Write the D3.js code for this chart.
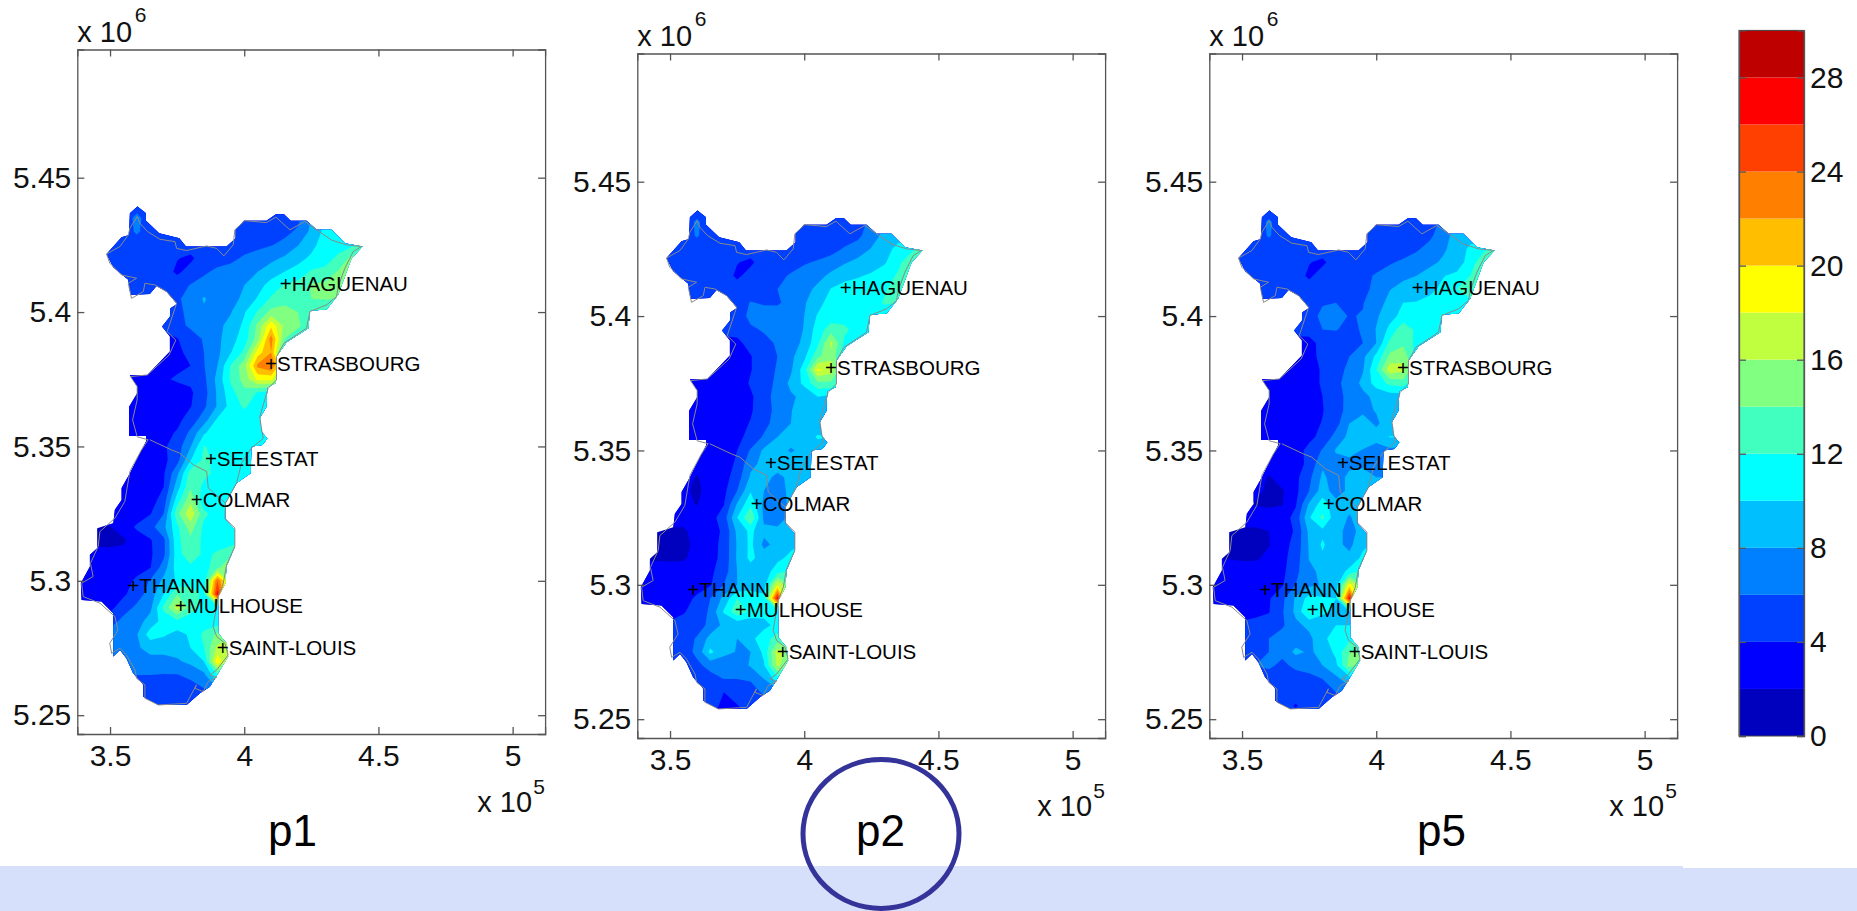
<!DOCTYPE html>
<html>
<head>
<meta charset="utf-8">
<title>p1 p2 p5</title>
<script src="https://d3js.org/d3.v7.min.js"></script>
<style>
body { margin: 0; background: #fff; }
svg { display: block; font-family: "Liberation Sans", Arial, sans-serif; }
.domain, .tick line { stroke: #555; stroke-width: 1.3px; }
.tick text { fill: #111; font-size: 30px; font-family: "Liberation Sans", Arial, sans-serif; }
</style>
</head>
<body>
<svg width="1857" height="911"></svg>
<script>
'use strict';

// colour bands, lowest first, two units wide each
var bandStep = 2;
var bandColors = ['#0000bf', '#0000ff', '#0040ff', '#0080ff', '#00bfff', '#00ffff', '#40ffbf', '#80ff80',
	'#bfff40', '#ffff00', '#ffbf00', '#ff8000', '#ff4000', '#ff0000', '#bf0000'];
var colorbarTicks = [0, 4, 8, 12, 16, 20, 24, 28];

// axes run in km, the labels show them as x 10^5 and x 10^6 metres
var xTicks = [350, 400, 450, 500];
var yTicks = [5250, 5300, 5350, 5400, 5450];
var panelNames = ['p1', 'p2', 'p5'];

var cityNames = ['HAGUENAU', 'STRASBOURG', 'SELESTAT', 'COLMAR', 'THANN', 'MULHOUSE', 'SAINT-LOUIS'];
var cityX = [415.4, 409.9, 387.5, 382.2, 358.6, 376.3, 391.9];
var cityY = [5410.5, 5380.7, 5345.4, 5330.1, 5298.2, 5290.7, 5274.9];

// grid of the fields: 5 km cells, west to east from gridX0, north to south from gridY0
var gridX0 = 340, gridY0 = 5440, gridStep = 5, gridCols = 22;

// blocky edge of the interpolated field
var maskKm = [[360.2,5439.3],[363.4,5436.8],[363.4,5434],[368.3,5429.3],[375.8,5427.5],[378.3,5424.4],[393.4,5424.4],
	[396.8,5427.5],[396.8,5430.8],[399.9,5434],[408.3,5434],[411.8,5436.4],[414.8,5436.4],[417.3,5434],[423.2,5434],
	[427,5430.6],[432.5,5430.6],[437.5,5425.6],[444.1,5424.4],[440,5420],[435,5406.4],[430.7,5401],[424.5,5400.5],
	[423.9,5394],[415.8,5388.8],[412,5383.4],[411.8,5373.5],[408.6,5372],[408.3,5364.8],[405.8,5360.5],[406.5,5355.5],
	[408.6,5353],[406.8,5350.5],[402.7,5350],[402.4,5340],[397.1,5336.3],[393,5328.9],[393,5322.7],[396.5,5319],
	[396.5,5312.8],[393.4,5305.3],[393,5299.1],[390.3,5294.1],[390.3,5280.5],[393.4,5276.8],[394,5271.8],[390.3,5265.6],
	[387.2,5260.6],[383.5,5258.2],[378.5,5253.8],[368,5253.8],[362.4,5256.9],[362.4,5261.3],[358.6,5265.6],[356.1,5271.2],
	[353.7,5274.3],[351.2,5271.8],[351.2,5287.9],[346.8,5292.3],[339.4,5292.9],[339.1,5299.1],[342.5,5305.3],[342.5,5309.7],
	[345.2,5312.1],[345.2,5319.6],[351.2,5321.4],[351.8,5326.4],[354.3,5330.1],[354.3,5334.5],[357.4,5340],[360.5,5346.3],
	[363.4,5351.8],[363.4,5353.9],[357.1,5353.9],[357.1,5364.8],[360.1,5369.8],[360.1,5372.3],[357.4,5376.6],[363.9,5376.6],
	[372.3,5385.3],[372.3,5390.9],[369.4,5394.6],[372.3,5398.3],[372.5,5401.4],[375,5403],[371.1,5407.6],[367.3,5409.7],
	[364.8,5406.7],[357.6,5406.4],[356.8,5412],[351.2,5416.7],[348.7,5421.6],[354.3,5427.8],[357.1,5428.7],[357.4,5436.8]];

// region border and the line between the two departments
var borderKm = [[356.8,5428.7],[357.4,5431.2],[360.1,5435.5],[361.1,5433.1],[363.9,5430],[368.6,5427.1],[374.2,5426.2],
	[374.8,5423.7],[378.5,5422.9],[386,5424.6],[389.7,5423.7],[392.4,5420.9],[395.9,5425],[396.5,5430.6],[400.2,5434],
	[408.3,5433.3],[411.8,5435.3],[417,5430.6],[422.6,5433.7],[427,5430.6],[432.5,5426.8],[438.1,5425],[443.7,5424.4],
	[440.6,5422.5],[437.5,5416.3],[435,5409.5],[434.4,5405.8],[430.7,5402.7],[424.5,5400.2],[423.2,5394],[414.8,5388.4],
	[412,5383.4],[412,5374.7],[408.9,5371.6],[405.8,5361.1],[406.5,5356.1],[407.1,5353],[402.7,5349.4],[399,5343.8],
	[397.1,5336.3],[393,5328.9],[392.8,5323.3],[396.5,5319.6],[396.5,5312.8],[393.4,5305.9],[392.2,5299.1],[390.3,5294.1],
	[388.4,5283],[389.7,5279.3],[392.8,5276.8],[394,5272.4],[389.7,5266.8],[387.2,5265],[389.7,5264.1],[386.6,5262.5],
	[384.7,5258.8],[381.6,5260],[382.2,5261.3],[378.5,5254.4],[368,5253.8],[363,5256.3],[363,5261.3],[359.9,5263.7],
	[359.3,5266.8],[356.1,5272.4],[353.7,5274.9],[350.6,5273],[349.9,5276.8],[353,5281.7],[351.8,5286.7],[346.2,5291.7],
	[340,5294.1],[339.4,5299.1],[343.7,5301.6],[342.7,5306.5],[345.6,5312.8],[346.2,5318.3],[351.8,5323.3],[355.5,5329.5],
	[357.4,5340.7],[361.7,5348.7],[364.2,5352.5],[360.1,5353.6],[358.4,5359.9],[360.1,5367.3],[360.1,5372.3],[357.6,5376],
	[363.9,5376.6],[372,5384],[374.5,5389.6],[371.3,5392.7],[374.2,5401.4],[374.8,5403.3],[371.1,5407.6],[366.7,5410.1],
	[363,5410.7],[362.4,5407.6],[358,5405.1],[356.8,5410.7],[359.9,5412.6],[354.3,5413.8],[349.9,5418.2],[348.7,5421.6],
	[353.7,5424.4],[356.8,5428.7]];
var deptLineKm = [[364.8,5352.5],[372.9,5348.7],[376,5347.5],[381,5343.2],[386,5340.7],[386.6,5334.5],[393,5328.9]];

// values, short rows carry their last value on to the east
var gridP1 = [
	[5,5,5,5,5,5,5,5,5,5,5,5,5,5,5,5,5,6,9,10],
	[5,5,5,5,6.5,5,5,5,5,5,5,5,5,5,5,5,5.5,8,10,11],
	[5,5,5,5,6.3,5,5,5,5,5,5,5,5,5,5,5.5,6.3,8.5,10.5,11],
	[5,5,5,5,5,5,5,5,5,5,5,5,5.2,5.5,5.9,6.5,7.9,9.5,10.8,11,11.5,13],
	[5,5,5,5,5,5,5,4.1,3.6,5,5.2,5.5,6.3,6.8,7.5,8.3,9.5,10.3,11,12.5,14.5,15],
	[5,5,5,5,5,5,5,3.6,4.8,5.7,6.4,6.8,7.2,8,9,10,10.6,12.3,12.6,14.2,15],
	[5,5,5,5,5,5,4.8,5.2,6.1,6.7,7,7.3,8,9.2,10.8,12.2,12.8,14.2,14.5,15],
	[5,5,5,5,5,5,5,5.8,6.5,8.2,7,7.2,8.5,10.2,12.3,13,13.5,14,14.2,14],
	[5,5,5,5,5,5,5,5.3,6.8,7.7,7.8,7.9,9.8,12.2,14.6,15,14,12.8,12],
	[5,5,5,5,5,5,4.5,5.3,6.4,7.2,7.6,8.5,10.5,14.5,19.5,15.5,14.5,12,11],
	[4,4,4,4,4,4,3.5,3.9,5,6.2,7.5,9.2,11,15,23,14,12,10.5,10],
	[3.5,3.5,3.5,3.5,3.5,3.5,3.5,3.6,4.5,6,7.5,9.9,12.5,19,22,11,10],
	[3,3,3,3,3,3,3.3,3.5,4,5.9,8,12.2,15.2,22.5,24,17,12,11],
	[3,3,3,3,3.3,3.5,3.7,4.3,4.4,5.5,8.6,12.4,14.8,18.5,18.5,13,11],
	[2.5,2.5,2.5,2.5,2.5,2.6,2.8,3,3.7,5.2,8.3,11.3,13.5,11.8,11,10],
	[2.6,2.6,2.6,2.6,2.6,2.7,2.8,3,3.9,5.6,8.2,10.8,12.3,11,10.8],
	[3,3,3,3,3,3,3.1,3.5,4.8,7,10.3,11,11,11],
	[3.3,3.3,3.3,3.3,3.3,3.3,3.4,4.2,6.5,9.8,11,11,10.5,10.9,11],
	[3,3,3,3,3,3.3,3.7,5,7.9,12.1,11.5,11,10.5,10],
	[3,3,3,3,3,3,3.5,5.2,9.9,12.5,11.5,11,10.4,9.5],
	[3,3,3,3,3,3,3.8,7.5,13,12.5,11.5,11,10.8,10],
	[3,3,3,3,3,3,4,9,13.7,11.5,11],
	[3,3,3,3,3,3,5,11,15.5,10.5,10.7,11],
	[3,3,3,3,3,3.9,6,13.5,17.5,12.5,11],
	[2,2,1.9,3,4.3,5.3,7.5,11.5,15,11.5,11],
	[1.5,1.5,1.5,1.7,3,3.8,5.5,11.5,13.5,11.5,11,11,12],
	[2.6,2.6,2.5,2.6,3.2,3.7,5.5,11.2,13.5,11.5,12.3,13.5,13],
	[3,3,3,3,3,3.9,7,11,11.5,11,13.5,16,12],
	[3,3,3,3,4.5,6.2,8.5,10.3,11.2,11,24,15,12],
	[3,3,3,3.7,5,7,10,14,13,11.5,27,14,12],
	[3,3,3.5,5,6.5,7.5,12.5,17,13,11,11],
	[5,5,5,6.7,7.2,8.8,10.8,11.5,10.8,10.8,10.7,11],
	[7,7,7,7,7.9,11,10.3,9.3,10.3,12.5,14.5,15],
	[7,7,7,7,7.8,8.5,8.5,8.9,10,12,16.5,18,15],
	[7,7,7,7,7,7.5,7.5,7.7,8.5,10,19.5,15,12],
	[6,6,6,6,6,6,5.9,5.9,6.5,7.5,12,10],
	[5,5,5,5,5,5,5,5,5.2,6,8],
	[5,5,5,5,5,5,5,5,5,5,5],
	[5,5,5,5,5,5,5,5,5,5,5]
];
var gridP2 = [
	[5,5,5,5,5,5,5,5,5,5,5,5,5,5,5,5,5,6,8,9],
	[5,5,5,5,6.3,5,5,5,5,5,5,5,5,5,5,5,5.2,6.5,8,9],
	[5,5,5,5,6.2,5,5,5,5,5,5,5,5,5,5,5,5.5,7.2,8.5,9],
	[5,5,5,5,5,5,5,5,5,5,5,5,5,5,5.3,6.2,7,8.1,9,10.8,11.5,13],
	[5,5,5,5,5,5,5,4.1,3.6,5,5,5.2,5.8,6.2,6.8,7.8,8.5,9,9.8,11.5,13.5],
	[5,5,5,5,5,5,5,3.6,4.8,5,5.5,6.2,6.8,7.3,8.5,9.5,9.8,10.3,11,12.3,13],
	[5,5,5,5,5,5,5,5,5,5.3,6,6.7,7.3,8.5,10.1,10.6,11,11,11.8,13],
	[5,5,5,5,5,5,5,5,6.1,5.8,5.8,6.5,7.8,9.2,11,11.2,11.3,11.3,12.2,12],
	[5,5,5,5,5,5,5,5,6.5,6.8,6.7,7,8,10.2,11,11,11,11],
	[5,5,5,5,5,5,4.5,4.6,5.7,6.2,6.3,7,8.1,11,13,12.5,11,10.5],
	[4,4,4,4,4,4,3.5,3.6,4.6,5.5,6.2,7,8.5,11.5,16.5,11.5,10.5],
	[3.3,3.3,3.3,3.3,3.3,3.3,3.3,3.4,3.9,5,6,7.5,9.5,13.5,15.5,11],
	[3.3,3.3,3.3,3.3,3.3,3.3,3.3,3.3,3.9,5,6.2,7.7,11,18.5,17,12],
	[3,3,3,3,3,3,3,3,4.2,5.2,6.4,8.5,10.5,13.5,13.5,11],
	[3,3,3,3,3,3,3,3,3.7,5.1,6.9,7.7,8.5,10,9.5,9],
	[3,3,3,3,3,3,3,3,3.8,5,6.7,7.9,9,9.2,9],
	[3,3,3,3,3,3,3,3.4,4.1,5.3,7,8,9,9],
	[3,3,3,3,3,3,3,3.6,4.5,6.3,8,8.7,9,10.2,10],
	[3,3,3,3,3,3,3.4,4,6.2,8.4,8.8,7.8,8.5,9],
	[3,3,3,3,3,3,3.2,4.3,7.5,8.5,9,9,9.2],
	[3,3,3,3,1.8,3,3.2,5,8.3,8.7,7.5,8.5,9],
	[2.5,2.5,2.5,2.5,1.5,3,3.5,6,9.8,8,6.8,8.7,9],
	[2.5,2.5,2.5,2.5,1.9,3,3.9,8.2,11.5,7.5,6.8,8.5,9],
	[3,3,3,3,3,3.2,5,10,14,7.5,7,8.5,9],
	[2,1.9,1.6,1.6,3,3.5,4.2,8.5,10.5,8.5,8.5,8.8,9],
	[1.5,1.5,1.5,1.5,2.5,3.3,4.5,8.2,10.5,7.5,8.6,9.5,10.2],
	[1.7,1.7,1.6,1.7,2.8,3.4,4.5,8.3,10.5,9,9.5,10.5,10],
	[3,3,3,3,3,3.6,5,8,9,9,11,12.5,11],
	[3,3,3,3,3.2,3.8,6,8,8.8,9,18,14,11],
	[3,3,3,3.3,4.3,6,8.5,12,11.5,10.5,27,13,11],
	[3,3,3,3.9,4.5,6.4,10.2,13.5,11.5,10.5,10.3,10],
	[4.5,4.5,4.5,4.5,5,6.6,8.5,8.5,8.3,9.5,10.5,10],
	[5,5,5,5,6.2,8.7,8.7,8,9.5,11,13,12],
	[5,5,5,5,6.5,10.5,8.5,7.9,8,10.5,17,15],
	[5.5,5.5,5.5,5.5,5.5,6.7,6.9,7,8.2,9.8,16.5,14],
	[5,5,5,5,5,5.2,6,6,6.2,8,11,10],
	[5,5,5,5,5,5,4,4.8,5.2,6.3,7],
	[5,5,5,5,5,4.5,3.7,3.9,5,5,5],
	[5,5,5,5,5,4,3.8,3.9,4,4,4]
];
var gridP5 = [
	[5,5,5,5,5,5,5,5,5,5,5,5,5,5,5,5,5,6,8,9],
	[5,5,5,5,6.3,5,5,5,5,5,5,5,5,5,5,5,5.2,6.5,8,9],
	[5,5,5,5,6.2,5,5,5,5,5,5,5,5,5,5,5,5.5,7.5,8.5,9],
	[5,5,5,5,5,5,5,5,5,5,5,5,5,5,5.2,5.7,6.8,7.8,8.6,10.5,11.5,13],
	[5,5,5,5,5,5,5,4.1,3.6,5,5,5,5.2,5.8,6.3,7,7.7,8.2,8.8,11,13.5],
	[5,5,5,5,5,5,5,3.6,5,5,5,5.5,6.2,6.8,7.5,8,8.5,9.9,10.5,12,13],
	[5,5,5,5,5,5,5,5,5,5,5,5.6,6.4,7.9,8.8,8.8,9.5,10.5,12,13],
	[5,5,5,5,5,5,5,5,5.8,6,5.5,5.9,7.1,8.6,10,10.1,10.6,11,11.5],
	[5,5,5,5,5,5,5,5,6.6,6.6,5.9,6.1,7.7,9.3,10.6,10.8,11,10.8],
	[5,5,5,5,5,5,4.5,4.6,6,6.1,5.5,6.2,8.1,10.5,13.5,11.5,10.8],
	[4,4,4,4,4,4,3.5,3.5,4.5,5,5.1,6,8,12.5,13.5,11.5],
	[3.3,3.3,3.3,3.3,3.3,3.3,3.3,3.4,4.5,5,6,7.5,10.5,14.5,15.5,11],
	[3.3,3.3,3.3,3.3,3.3,3.3,3.3,3.3,4.2,5.5,6.3,7.8,11.9,17.3,16.5,12],
	[3,3,3,3,3,3,3,3,4.3,5.7,6.5,8.6,10.8,12.5,13,10],
	[3,3,3,3,3,3,3,3,4,5.5,6.4,7.4,8.6,9,9],
	[3,3,3,3,3,3,3,3,3.9,5.2,6.7,7.6,8.1,9,9],
	[3,3,3,3,3,3,3,3.4,4.1,5.3,8,8.8,7.7,8.9],
	[3,3,3,3,3,3,3,3.6,4.5,6.8,8.5,9,8.8,10.1,10],
	[3,3,3,3,3,3,3.3,4.5,6.2,8.2,8.5,7.9,7,7.5],
	[3,3,3,3,3,3,3.2,4.5,7.7,7.2,7.5,7.5,7.5],
	[3,3,3,3,1.8,3,3.5,5.5,8.4,7,8.5,9,8],
	[2.5,2.5,2.5,2.5,1.6,1.8,3.5,6,9,7,8.5,8.7,8],
	[2,2,2,1.9,1.6,1.9,3.8,8.3,11,8.7,8.3,8.5,8],
	[3,3,3,3,3,3,4.7,9.8,12.5,8.5,7.9,8.5,8],
	[2,2,1.6,1.6,2,3.2,4.2,8.5,9.5,8.5,7.5,8.5,9.5],
	[1.8,1.8,1.5,1.5,1.9,3.3,4.6,8.2,10.3,8.5,7.5,9.5,10.5],
	[1.9,1.9,1.7,1.7,2.5,3.4,5,8.1,9.7,8.8,8.5,10.5,10],
	[3,3,3,3,3,3.5,5.5,7.5,8.5,8.7,10.6,12.5,11],
	[3,3,3,3,3,3.8,6,7.5,8.2,8.8,19,14,11],
	[3,3,3,3.3,3.8,5.5,8.3,10.8,10.2,10,27,12,11],
	[3,3,3,3.6,3.9,5.8,8.5,12.3,10.5,9.5,9.8,10],
	[4.5,4.5,4.5,4.5,4.8,5.7,7.5,8.5,8.5,10,10],
	[5,5,5,5,6,6.9,7,7.5,9.5,11,11.5,11],
	[5,5,5,5,6,6.5,8.5,7.7,8.6,10.5,14,14],
	[6,6,6,6,6.4,5.5,6.5,7,8,9.5,14.8,13],
	[5,5,5,5,5,5,5,5.3,6,7.5,9],
	[5,5,5,5,5,5,5,5,5,6,7],
	[5,5,5,5,5,5,3.8,5,5,5,5],
	[5,5,5,5,5,5,5,5,5,5,5]
];
var panelGrids = [gridP1, gridP2, gridP5];

// pixel frame of each panel
var panelLeft = [77.3, 637.3, 1209.3];
var panelTop = [49.5, 53.5, 53.5];
var panelNameX = [292.5, 880.5, 1441.5];
var panelWidth = 467.8, panelHeight = 684.5;

var svg = d3.select('svg');

// pale strip along the bottom of the slide, under everything else
svg.append('rect')
	.attr('x', 0).attr('y', 866)
	.attr('width', 1683).attr('height', 45)
	.attr('fill', '#d6e0fb');
svg.append('rect')
	.attr('x', 1683).attr('y', 868)
	.attr('width', 174).attr('height', 43)
	.attr('fill', '#d6e0fb');

var xScale = d3.scaleLinear().domain([337.8, 512.1]).range([0, panelWidth]);
var yScale = d3.scaleLinear().domain([5243, 5497.7]).range([panelHeight, 0]);

// contours come out in grid units, values sit on cell centres
var gridProjection = d3.geoTransform({
	point: function (cx, cy) {
		this.stream.point(
			xScale(gridX0 + (cx - 0.5) * gridStep),
			yScale(gridY0 - (cy - 0.5) * gridStep)
		);
	}
});
var gridPath = d3.geoPath(gridProjection);
var kmLine = d3.line()
	.x(function (d) { return xScale(d[0]); })
	.y(function (d) { return yScale(d[1]); });

/**
 * Flatten the rows for d3.contours, short rows keep their last value.
 */
function flattenGrid(rows) {
	var flat = [];
	rows.forEach(function (row) {
		for(var i = 0; i < gridCols; i++) {
			flat.push(i < row.length ? row[i] : row[row.length - 1]);
		}
	});
	return flat;
}

/**
 * Draw one map with its frame, ticks, border and cities.
 */
function drawPanel(idx) {
	var rows = panelGrids[idx];
	var left = panelLeft[idx];
	var top = panelTop[idx];
	var g = svg.append('g')
		.attr('transform', 'translate(' + left + ',' + top + ')');

	g.append('clipPath')
		.attr('id', 'mask' + idx)
		.append('path')
		.attr('d', kmLine(maskKm) + 'Z');

	var contours = d3.contours()
		.size([gridCols, rows.length])
		.thresholds(d3.range(0, 30, bandStep))(flattenGrid(rows));

	g.append('g')
		.attr('clip-path', 'url(#mask' + idx + ')')
		.selectAll('path')
		.data(contours)
		.enter()
		.append('path')
		.attr('d', gridPath)
		.attr('fill', function (d, i) { return bandColors[i]; });

	g.append('path')
		.attr('d', kmLine(borderKm))
		.attr('fill', 'none')
		.attr('stroke', '#8a8a8a')
		.attr('stroke-width', 1);
	g.append('path')
		.attr('d', kmLine(deptLineKm))
		.attr('fill', 'none')
		.attr('stroke', '#8a8a8a')
		.attr('stroke-width', 1);

	var xAxis = d3.axisBottom(xScale).tickValues(xTicks).tickSize(-7).tickPadding(11)
		.tickFormat(function (d) { return d / 100; });
	var yAxis = d3.axisLeft(yScale).tickValues(yTicks).tickSize(-7).tickPadding(6)
		.tickFormat(function (d) { return d / 1000; });
	g.append('g').attr('transform', 'translate(0,' + panelHeight + ')').call(xAxis);
	g.append('g').call(yAxis);
	g.append('g')
		.call(d3.axisTop(xScale).tickValues(xTicks).tickSize(-7).tickFormat(''));
	g.append('g').attr('transform', 'translate(' + panelWidth + ',0)')
		.call(d3.axisRight(yScale).tickValues(yTicks).tickSize(-7).tickFormat(''));

	// the plus sign of the label marks the city
	g.selectAll('text.city')
		.data(cityNames)
		.enter()
		.append('text')
		.attr('class', 'city')
		.attr('x', function (d, i) { return xScale(cityX[i]) - 5.8; })
		.attr('y', function (d, i) { return yScale(cityY[i]) + 7; })
		.attr('font-size', 20.5)
		.attr('fill', '#000')
		.text(function (d) { return '+' + d; });

	// exponents of the axes
	g.append('text').attr('x', 0).attr('y', -8).attr('font-size', 29).attr('fill', '#111').text('x 10');
	g.append('text').attr('x', 57.5).attr('y', -28).attr('font-size', 21).attr('fill', '#111').text('6');
	g.append('text').attr('x', 400).attr('y', panelHeight + 78).attr('font-size', 29).attr('fill', '#111').text('x 10');
	g.append('text').attr('x', 456).attr('y', panelHeight + 60).attr('font-size', 21).attr('fill', '#111').text('5');

	// panel name, same baseline everywhere
	svg.append('text')
		.attr('x', panelNameX[idx])
		.attr('y', 846)
		.attr('font-size', 44)
		.attr('text-anchor', 'middle')
		.attr('fill', '#000')
		.text(panelNames[idx]);
}

panelNames.forEach(function (name, idx) {
	drawPanel(idx);
});

// colour bar
var barLeft = 1739, barWidth = 65;
var barScale = d3.scaleLinear().domain([0, 30]).range([736, 30.4]);
var bar = svg.append('g').attr('transform', 'translate(' + barLeft + ',0)');

bar.selectAll('rect')
	.data(bandColors)
	.enter()
	.append('rect')
	.attr('x', 0)
	.attr('y', function (d, i) { return barScale((i + 1) * bandStep); })
	.attr('width', barWidth)
	.attr('height', function (d, i) { return barScale(i * bandStep) - barScale((i + 1) * bandStep); })
	.attr('fill', function (d) { return d; });

bar.append('rect')
	.attr('width', barWidth)
	.attr('y', barScale(30))
	.attr('height', barScale(0) - barScale(30))
	.attr('fill', 'none')
	.attr('stroke', '#444');

bar.append('g')
	.attr('transform', 'translate(' + barWidth + ',0)')
	.call(d3.axisRight(barScale).tickValues(colorbarTicks).tickSize(-7).tickPadding(6));
bar.append('g')
	.call(d3.axisLeft(barScale).tickValues(colorbarTicks).tickSize(-7).tickFormat(''));

// hand drawn ring round p2
svg.append('ellipse')
	.attr('cx', 881)
	.attr('cy', 834)
	.attr('rx', 78)
	.attr('ry', 74.5)
	.attr('fill', 'none')
	.attr('stroke', '#333399')
	.attr('stroke-width', 5);
</script>
</body>
</html>
